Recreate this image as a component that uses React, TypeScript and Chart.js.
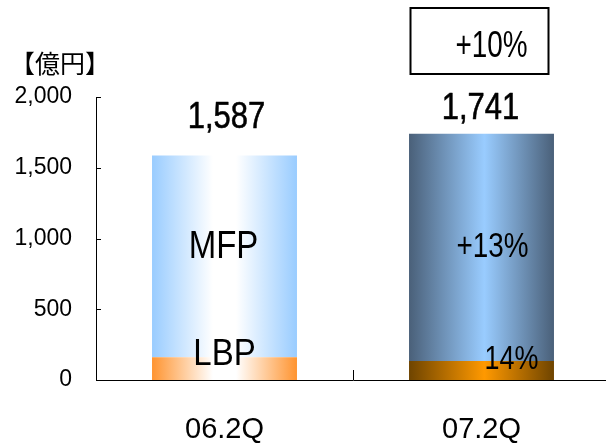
import React, { useEffect, useRef } from "react";
import { Chart, registerables } from "chart.js";

Chart.register(...registerables);

const categories = ["06.2Q", "07.2Q"];
const lbpValues = [160, 135];
const mfpValues = [1427, 1606];
const totalLabels = ["1,587", "1,741"];
const yTicks = [0, 500, 1000, 1500, 2000];
const unitLabel = "【億円】";
const growthLabel = "+10%";
const mfpNotes = ["MFP", "+13%"];
const lbpNotes = ["LBP", "14%"];

const BAR_PCT = 0.564;
const FONT = "'Liberation Sans', Arial, sans-serif";

const mfpStops: [number, string][][] = [
  [[0, "#99CCFF"], [0.42, "#FFFFFF"], [0.58, "#FFFFFF"], [1, "#99CCFF"]],
  [[0, "#4A6079"], [0.52, "#99CCFF"], [1, "#4A6079"]],
];
const lbpStops: [number, string][][] = [
  [[0, "#FF9430"], [0.42, "#FFFFFF"], [0.58, "#FFFFFF"], [1, "#FF9430"]],
  [[0, "#6E4400"], [0.52, "#FF9900"], [1, "#6E4400"]],
];

function barGradient(stopsByIndex: [number, string][][]) {
  return (ctx: any) => {
    const chart = ctx.chart;
    const xs = chart.scales && chart.scales.x;
    if (!chart.chartArea || !xs || ctx.dataIndex === undefined) return stopsByIndex[0][0][1];
    const cx = xs.getPixelForValue(ctx.dataIndex);
    const half = ((xs.width / categories.length) * BAR_PCT) / 2;
    const g = chart.ctx.createLinearGradient(cx - half, 0, cx + half, 0);
    stopsByIndex[ctx.dataIndex].forEach(([o, c]) => g.addColorStop(o, c));
    return g;
  };
}

function drawText(
  ctx: CanvasRenderingContext2D,
  text: string,
  cx: number,
  baseline: number,
  size: number,
  sx: number,
  sy: number,
  heavy = 0
) {
  ctx.save();
  ctx.translate(cx, baseline);
  ctx.scale(sx, sy);
  ctx.font = `${size}px ${FONT}`;
  ctx.textAlign = "center";
  ctx.textBaseline = "alphabetic";
  ctx.fillStyle = "#000";
  ctx.fillText(text, 0, 0);
  if (heavy > 0) {
    ctx.strokeStyle = "#000";
    ctx.lineWidth = heavy;
    ctx.lineJoin = "round";
    ctx.strokeText(text, 0, 0);
  }
  ctx.restore();
}

const overlayPlugin = {
  id: "overlay",
  afterDraw(chart: any) {
    const { ctx, chartArea: area, scales } = chart;
    const xs = scales.x;
    const ys = scales.y;
    ctx.save();
    ctx.strokeStyle = "#000";
    ctx.lineWidth = 1;
    // inner y ticks
    yTicks.forEach((v) => {
      const y = Math.round(ys.getPixelForValue(v)) + 0.5;
      ctx.beginPath();
      ctx.moveTo(area.left, y);
      ctx.lineTo(area.left + 5, y);
      ctx.stroke();
    });
    // category divider tick
    const dx = Math.round(xs.getPixelForValue(0.5)) + 0.5;
    ctx.beginPath();
    ctx.moveTo(dx, area.bottom);
    ctx.lineTo(dx, area.bottom - 10);
    ctx.stroke();

    // totals above bars
    const totalGap = [27, 15];
    const totalDx = [2, -1];
    categories.forEach((_, i) => {
      const total = lbpValues[i] + mfpValues[i];
      const x = xs.getPixelForValue(i) + totalDx[i];
      const y = ys.getPixelForValue(total) - totalGap[i];
      drawText(ctx, totalLabels[i], x, y, 31, 1, 1.17, 0.5);
    });

    // MFP segment notes
    const mfpDx = [-1, 11];
    const mfpDy = [2, 10];
    const mfpSize = [33, 30];
    const mfpSx = [1, 0.93];
    categories.forEach((_, i) => {
      const mid = lbpValues[i] + mfpValues[i] / 2;
      drawText(
        ctx,
        mfpNotes[i],
        xs.getPixelForValue(i) + mfpDx[i],
        ys.getPixelForValue(mid) + mfpDy[i],
        mfpSize[i],
        mfpSx[i],
        1.17
      );
    });

    // LBP segment notes
    const lbpDx = [0, 30];
    const lbpLift = [15, 11];
    const lbpSize = [33, 29];
    const lbpSx = [1, 0.93];
    categories.forEach((_, i) => {
      const y = ys.getPixelForValue(0) - lbpLift[i];
      drawText(ctx, lbpNotes[i], xs.getPixelForValue(i) + lbpDx[i], y, lbpSize[i], lbpSx[i], 1.12);
    });

    // unit label
    ctx.fillStyle = "#000";
    ctx.textAlign = "left";
    ctx.textBaseline = "middle";
    ctx.font = `25px 'Noto Sans CJK JP', sans-serif`;
    ctx.fillText(unitLabel, 10, 63);

    // growth box
    const bx = xs.getPixelForValue(1);
    ctx.lineWidth = 2;
    ctx.strokeRect(bx - 71, 8, 138, 66);
    drawText(ctx, growthLabel, bx + 10, 57, 30, 0.93, 1.2);
    ctx.restore();
  },
};

export default function App() {
  const canvasRef = useRef<HTMLCanvasElement | null>(null);

  useEffect(() => {
    const canvas = canvasRef.current;
    if (!canvas) return;
    const chart = new Chart(canvas, {
      type: "bar",
      data: {
        labels: categories,
        datasets: [
          {
            label: "LBP",
            data: lbpValues,
            backgroundColor: barGradient(lbpStops) as any,
            borderWidth: 0,
            categoryPercentage: 1,
            barPercentage: BAR_PCT,
          },
          {
            label: "MFP",
            data: mfpValues,
            backgroundColor: barGradient(mfpStops) as any,
            borderWidth: 0,
            categoryPercentage: 1,
            barPercentage: BAR_PCT,
          },
        ],
      },
      options: {
        responsive: false,
        animation: false,
        devicePixelRatio: 1,
        layout: { padding: { top: 97, left: 0, right: 0, bottom: 0 } },
        plugins: { legend: { display: false }, tooltip: { enabled: false }, title: { display: false } },
        scales: {
          x: {
            stacked: true,
            offset: true,
            afterFit: (s: any) => {
              s.height = 63;
            },
            ticks: {
              padding: 33,
              color: "#000",
              maxRotation: 0,
              autoSkip: false,
              font: { family: FONT, size: 29 },
            },
            grid: { display: false, drawTicks: false },
            border: { display: true, color: "#000", width: 1 },
          },
          y: {
            stacked: true,
            min: 0,
            max: 2000,
            afterFit: (s: any) => {
              s.width = 96;
            },
            afterBuildTicks: (s: any) => {
              s.ticks = yTicks.map((v) => ({ value: v }));
            },
            ticks: {
              padding: 24,
              color: "#000",
              font: { family: FONT, size: 23 },
              callback: (v: any) => Number(v).toLocaleString("en-US"),
            },
            grid: { display: false, drawTicks: false },
            border: { display: true, color: "#000", width: 1 },
          },
        },
      },
      plugins: [overlayPlugin],
    });
    return () => chart.destroy();
  }, []);

  return (
    <div
      style={{
        position: "fixed",
        left: 0,
        top: 0,
        width: 606,
        height: 443,
        overflow: "hidden",
        background: "#fff",
      }}
    >
      <canvas ref={canvasRef} width={610} height={443} style={{ display: "block" }} />
    </div>
  );
}
